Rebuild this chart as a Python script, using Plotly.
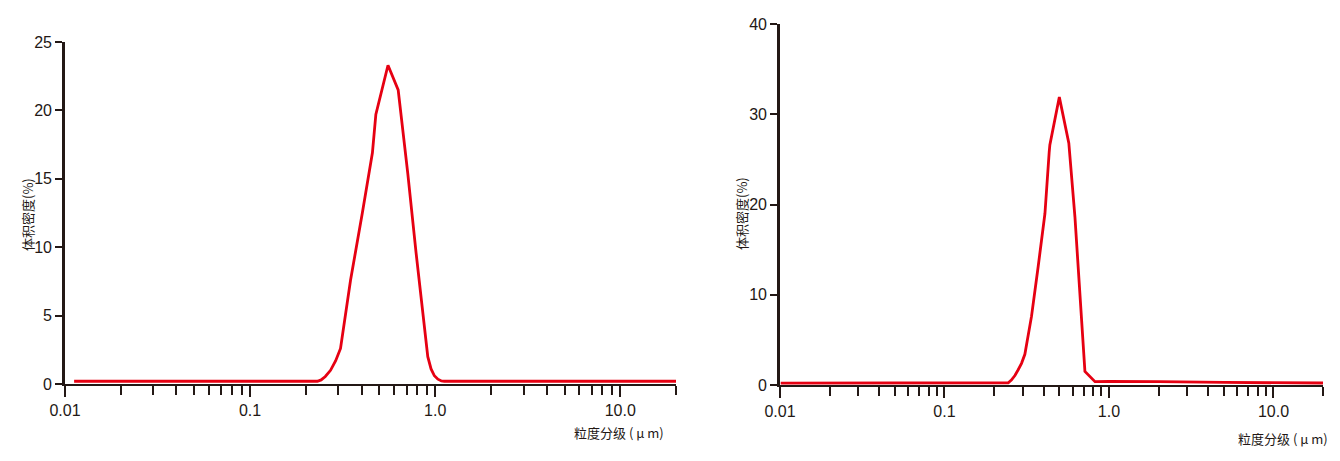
import numpy as np
import plotly.graph_objects as go

# ---- data ----
size_left = [0.0112, 0.231, 0.242, 0.255, 0.272, 0.29, 0.308, 0.349, 0.404, 0.458, 0.478,
             0.556, 0.631, 0.711, 0.789, 0.875, 0.912, 0.95, 0.99, 1.034, 1.08, 1.12, 20.0]
dens_left = [0.2, 0.2, 0.3, 0.55, 1.0, 1.7, 2.6, 7.6, 12.5, 16.9, 19.7,
             23.3, 21.5, 15.4, 9.55, 3.9, 2.0, 1.1, 0.6, 0.35, 0.22, 0.2, 0.2]

size_right = [0.0101, 0.244, 0.255, 0.268, 0.28, 0.294, 0.308, 0.338, 0.371, 0.408, 0.433,
              0.437, 0.499, 0.570, 0.621, 0.666, 0.714, 0.822, 1.0, 2.0, 5.0, 20.0]
dens_right = [0.2, 0.25, 0.55, 1.05, 1.66, 2.4, 3.4, 7.6, 13.1, 19.0, 25.8,
              26.6, 31.9, 26.8, 18.6, 10.2, 1.5, 0.37, 0.4, 0.38, 0.28, 0.22]

major_vals = [0.01, 0.1, 1, 10]
major_text = ["0.01", "0.1", "1.0", "10.0"]
minor_vals = [m * d for d in (0.01, 0.1, 1) for m in range(2, 10)] + [20]
y_left_ticks = [0, 5, 10, 15, 20, 25]
y_right_ticks = [0, 10, 20, 30, 40]

ytitle = "体积密度(%)"
xtitle = "粒度分级 ( μ m)"

# page body has an 8px margin; size the figure to fill the rest of the window
OFF = 8
W, H = 1340 - OFF, 461 - OFF
AX = "#231815"
RED = "#e60012"
FONT = "Liberation Sans, Arial, sans-serif"


def px(x):
    return (x - OFF) / W


def py(y):
    return (H - (y - OFF)) / H


fig = go.Figure()
fig.add_trace(go.Scatter(x=size_left, y=dens_left, mode="lines",
                         line=dict(color=RED, width=2.8), xaxis="x", yaxis="y",
                         showlegend=False))
fig.add_trace(go.Scatter(x=size_right, y=dens_right, mode="lines",
                         line=dict(color=RED, width=2.8), xaxis="x2", yaxis="y2",
                         showlegend=False))


def xax(domain, anchor):
    return dict(type="log", domain=domain, anchor=anchor, automargin=False,
                range=[-2, np.log10(20)],
                tickmode="array", tickvals=major_vals, ticktext=major_text,
                ticks="outside", ticklen=11, tickwidth=2.2, tickcolor=AX,
                minor=dict(tickmode="array", tickvals=minor_vals, ticks="outside",
                           ticklen=9, tickwidth=1.8, tickcolor=AX, showgrid=False),
                showline=True, linecolor=AX, linewidth=2,
                showgrid=False, zeroline=False,
                tickfont=dict(family=FONT, size=16, color=AX))


def yax(domain, anchor, rng, tv):
    return dict(domain=domain, anchor=anchor, range=rng, automargin=False,
                tickmode="array", tickvals=tv,
                ticks="outside", ticklen=7, tickwidth=2, tickcolor=AX,
                showline=True, linecolor=AX, linewidth=2.6,
                showgrid=False, zeroline=False,
                tickfont=dict(family=FONT, size=16, color=AX))


fig.update_layout(
    width=W, height=H,
    margin=dict(l=0, r=0, t=0, b=0, autoexpand=False),
    paper_bgcolor="white", plot_bgcolor="white",
    xaxis=xax([px(65), px(676)], "y"),
    yaxis=yax([py(384), py(42)], "x", [0, 25], y_left_ticks),
    xaxis2=xax([px(780), px(1323)], "y2"),
    yaxis2=yax([py(385), py(24)], "x2", [0, 40], y_right_ticks),
)

ann_font = dict(family="Noto Sans CJK SC, " + FONT, size=13, color=AX)
for xc, yc in [(27, 215), (741, 214)]:
    fig.add_annotation(x=px(xc), y=py(yc), xref="paper", yref="paper",
                       xanchor="center", yanchor="middle",
                       text=ytitle, textangle=-90, showarrow=False, font=ann_font)
for xc, yc in [(619, 432), (1283, 438)]:
    fig.add_annotation(x=px(xc), y=py(yc), xref="paper", yref="paper",
                       xanchor="center", yanchor="middle",
                       text=xtitle, showarrow=False, font=ann_font)

fig.write_html("out.html")
